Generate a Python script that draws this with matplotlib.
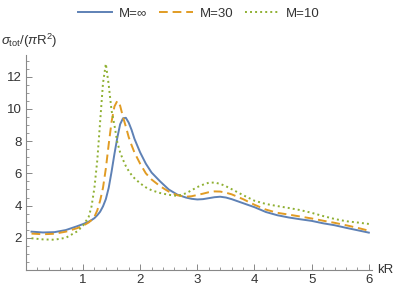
import matplotlib
matplotlib.use("Agg")
import matplotlib.pyplot as plt
from matplotlib.ticker import MultipleLocator
from matplotlib.lines import Line2D

plt.rcParams['font.family'] = ['Liberation Sans', 'DejaVu Sans']
plt.rcParams['mathtext.fontset'] = 'custom'
plt.rcParams['mathtext.rm'] = 'Liberation Sans'
plt.rcParams['mathtext.it'] = 'Liberation Sans:italic'

kR = [0.1, 0.3, 0.5, 0.7, 0.9, 1.0, 1.1, 1.15, 1.2, 1.25, 1.3, 1.35, 1.4, 1.45,
      1.5, 1.55, 1.6, 1.65, 1.7, 1.75, 1.8, 1.85, 1.9, 2.0, 2.1, 2.2, 2.35, 2.5, 2.65,
      2.8, 2.9, 3.0, 3.1, 3.2, 3.3, 3.4, 3.5, 3.6, 3.8, 4.0, 4.2, 4.4, 4.6, 4.8,
      5.0, 5.2, 5.4, 5.6, 5.8, 6.0]

m_inf = [2.38, 2.33, 2.35, 2.48, 2.72, 2.85, 3.0, 3.1, 3.22, 3.4, 3.62, 3.95, 4.4, 5.1,
         6.1, 7.2, 8.2, 9.05, 9.42, 9.45, 9.15, 8.7, 8.15, 7.3, 6.6, 6.05, 5.5, 5.0, 4.68,
         4.5, 4.42, 4.38, 4.4, 4.46, 4.52, 4.55, 4.5, 4.4, 4.15, 3.9, 3.6, 3.4, 3.26, 3.15,
         3.05, 2.9, 2.78, 2.62, 2.47, 2.32]

m_30 = [2.26, 2.22, 2.25, 2.38, 2.6, 2.75, 2.95, 3.1, 3.3, 3.7, 4.3, 5.1, 6.3, 7.8,
        9.2, 10.15, 10.5, 10.2, 9.5, 8.9, 8.25, 7.75, 7.3, 6.6, 6.0, 5.62, 5.2, 4.87, 4.64,
        4.55, 4.58, 4.66, 4.74, 4.83, 4.88, 4.87, 4.8, 4.7, 4.4, 4.05, 3.75, 3.55, 3.44, 3.32,
        3.2, 3.06, 2.93, 2.78, 2.62, 2.44]

m_10 = [1.97, 1.9, 1.88, 2.0, 2.4, 2.75, 3.3, 3.95, 5.1, 6.8, 9.2, 11.6, 12.8, 11.5,
        9.9, 9.0, 7.95, 7.3, 6.85, 6.45, 6.15, 5.9, 5.7, 5.38, 5.13, 4.95, 4.78, 4.67, 4.6,
        4.76, 4.95, 5.15, 5.3, 5.42, 5.43, 5.35, 5.2, 5.02, 4.65, 4.3, 4.1, 3.97, 3.85, 3.72,
        3.55, 3.35, 3.17, 3.03, 2.95, 2.86]

labels = ['M=\u221e', 'M=30', 'M=10']
colors = ['#5E81B5', '#E19C24', '#8FB032']
series = [m_inf, m_30, m_10]
styles = ['-', (0, (4.5, 2.5)), (0, (1, 1.6))]

fig = plt.figure(figsize=(3.99, 2.91), dpi=100)
ax = fig.add_axes([25.8/399, 1-270/291, (371.7-25.8)/399, (270-55)/291])

for y, c, ls, lab in zip(series, colors, styles, labels):
    ax.plot(kR, y, color=c, linestyle=ls, lw=1.4, label=lab)

ax.set_xlim(0, 6.05)
ax.set_ylim(0, 13.35)
for s in ['top', 'right']:
    ax.spines[s].set_visible(False)
for s in ['left', 'bottom']:
    ax.spines[s].set_color('#888888')
    ax.spines[s].set_linewidth(0.8)
ax.xaxis.set_major_locator(MultipleLocator(1))
ax.xaxis.set_minor_locator(MultipleLocator(0.2))
ax.yaxis.set_major_locator(MultipleLocator(2))
ax.yaxis.set_minor_locator(MultipleLocator(0.5))
ax.tick_params(which='both', direction='in', colors='#888888', labelcolor='#333333', labelsize=9.5)
ax.tick_params(which='major', length=4, width=0.7, pad=3)
ax.tick_params(which='minor', length=2, width=0.6)
ax.set_xticks([1, 2, 3, 4, 5, 6])
ax.set_xticklabels(['1', '2', '3', '4', '5', '6'])
ax.set_yticks([2, 4, 6, 8, 10, 12])
ax.set_yticklabels(['2', '4', '6', '8', '10', '12'])

fig.text(1/399, 1-41/291, r'$\sigma_{\mathrm{tot}}/(\pi\mathrm{R}^2)$', fontsize=9.5, color='#333333', va='center', ha='left')
fig.text(377/399, 1-270/291, 'kR', fontsize=9.5, color='#333333', va='center', ha='left')

handles = [Line2D([0], [0], color=c, linestyle=ls, lw=1.4) for c, ls in zip(colors, styles)]
fig.legend(handles, labels, loc='center', bbox_to_anchor=(199/399, 1-14/291), ncol=3,
           frameon=False, fontsize=9.5, handlelength=2.6, columnspacing=0.9, handletextpad=0.5,
           labelcolor='#333333')

fig.savefig('out.png', dpi=100)
